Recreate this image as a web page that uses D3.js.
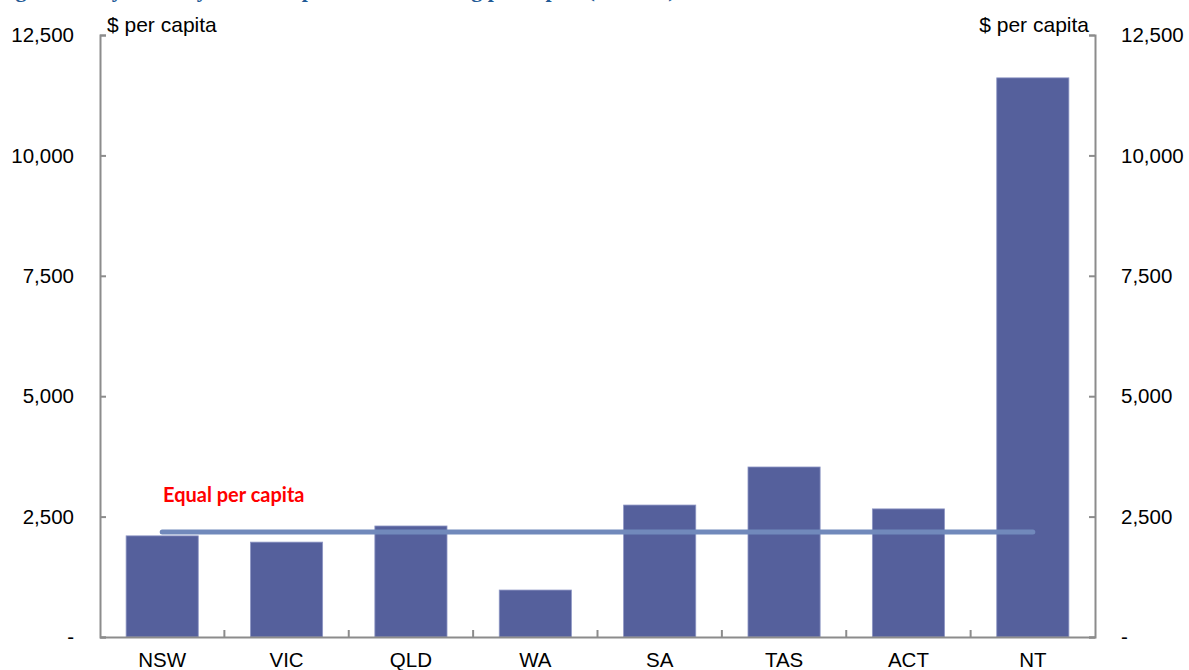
<!DOCTYPE html>
<html>
<head>
<meta charset="utf-8">
<script src="https://cdn.jsdelivr.net/npm/d3@7"></script>
<style>
  html, body { margin: 0; padding: 0; background: #fff; }
  svg { display: block; }
</style>
</head>
<body>
<svg id="chart" width="1189" height="670"></svg>
<script>
// States and territories, $ per capita
const states = ["NSW", "VIC", "QLD", "WA", "SA", "TAS", "ACT", "NT"];
const perCapita = [2100, 1970, 2305, 975, 2740, 3530, 2660, 11610];
const equalPerCapita = 2180;
const yTicks = [0, 2500, 5000, 7500, 10000, 12500];
const unitLabel = "$ per capita";
const lineLabel = "Equal per capita";
const titleText = "Figure 4: Payments by state compared with funding per capita (2009-10)";

const svg = d3.select("#chart");
const plotLeft = 100, plotRight = 1095, plotTop = 35, plotBottom = 637;

const x = d3.scaleBand().domain(states).range([plotLeft, plotRight]).paddingInner(0.42).paddingOuter(0.21);
const xOuter = d3.scaleBand().domain(states).range([plotLeft, plotRight]);
const y = d3.scaleLinear().domain([0, 12500]).range([plotBottom, plotTop]);

const fmt = v => v === 0 ? "-" : d3.format(",")(v);
const axisColor = "#8c8c8c";
const labelFont = "'Liberation Sans', Arial, sans-serif";

// Title (runs off the top edge)
svg.append("text")
  .attr("x", -4).attr("y", -3)
  .attr("font-family", "'Liberation Serif', serif")
  .attr("font-weight", "bold")
  .attr("font-size", 22)
  .attr("fill", "#1f5a96")
  .text(titleText);

// Bars
svg.append("g").selectAll("rect")
  .data(states)
  .join("rect")
  .attr("x", d => x(d))
  .attr("width", x.bandwidth())
  .attr("y", (d, i) => y(perCapita[i]))
  .attr("height", (d, i) => y(0) - y(perCapita[i]))
  .attr("fill", "#55609c")
  .attr("stroke", "#8e96c4")
  .attr("stroke-width", 0.8);

// Equal per capita line
svg.append("line")
  .attr("x1", xOuter(states[0]) + xOuter.bandwidth() / 2)
  .attr("x2", xOuter(states[states.length - 1]) + xOuter.bandwidth() / 2)
  .attr("y1", y(equalPerCapita))
  .attr("y2", y(equalPerCapita))
  .attr("stroke", "#7189bb")
  .attr("stroke-width", 5)
  .attr("stroke-linecap", "round");

svg.append("text")
  .attr("x", 163).attr("y", 502)
  .attr("font-family", "Lato, 'Open Sans', sans-serif")
  .attr("font-weight", "bold")
  .attr("font-size", 20)
  .attr("fill", "#ff0000")
  .text(lineLabel);

// Left axis
const leftAxis = d3.axisRight(y).tickValues(yTicks).tickSize(6).tickFormat("");
const gl = svg.append("g").attr("transform", `translate(${plotLeft},0)`).call(leftAxis);
// Right axis
const rightAxis = d3.axisLeft(y).tickValues(yTicks).tickSize(6).tickFormat("");
const gr = svg.append("g").attr("transform", `translate(${plotRight},0)`).call(rightAxis);
// Bottom axis with ticks between categories
const bottomAxis = d3.axisTop(xOuter).tickSize(0).tickFormat("");
const gb = svg.append("g").attr("transform", `translate(0,${plotBottom})`).call(bottomAxis);
gb.selectAll(".tick").remove();
gb.selectAll(null)
  .data(states.slice(1))
  .join("line")
  .attr("x1", d => xOuter(d)).attr("x2", d => xOuter(d))
  .attr("y1", 0).attr("y2", -7)
  .attr("stroke", axisColor).attr("stroke-width", 2);

[gl, gr, gb].forEach(g => {
  g.select(".domain").attr("stroke", axisColor).attr("stroke-width", 2);
  g.selectAll(".tick line").attr("stroke", axisColor).attr("stroke-width", 2);
});

// Y tick labels
svg.append("g").selectAll("text")
  .data(yTicks).join("text")
  .attr("x", 74).attr("y", d => y(d)).attr("dy", "0.35em")
  .attr("text-anchor", "end")
  .attr("font-family", labelFont).attr("font-size", 20.5).attr("fill", "#000")
  .text(fmt);
svg.append("g").selectAll("text")
  .data(yTicks).join("text")
  .attr("x", 1121).attr("y", d => y(d)).attr("dy", "0.35em")
  .attr("text-anchor", "start")
  .attr("font-family", labelFont).attr("font-size", 20.5).attr("fill", "#000")
  .text(fmt);

// X labels
svg.append("g").selectAll("text")
  .data(states).join("text")
  .attr("x", d => xOuter(d) + xOuter.bandwidth() / 2)
  .attr("y", 667)
  .attr("text-anchor", "middle")
  .attr("font-family", labelFont).attr("font-size", 20.5).attr("fill", "#000")
  .text(d => d);

// Unit labels
svg.append("text").attr("x", 107).attr("y", 32)
  .attr("font-family", labelFont).attr("font-size", 21).attr("fill", "#000")
  .text(unitLabel);
svg.append("text").attr("x", 1089).attr("y", 32).attr("text-anchor", "end")
  .attr("font-family", labelFont).attr("font-size", 21).attr("fill", "#000")
  .text(unitLabel);
</script>
</body>
</html>
